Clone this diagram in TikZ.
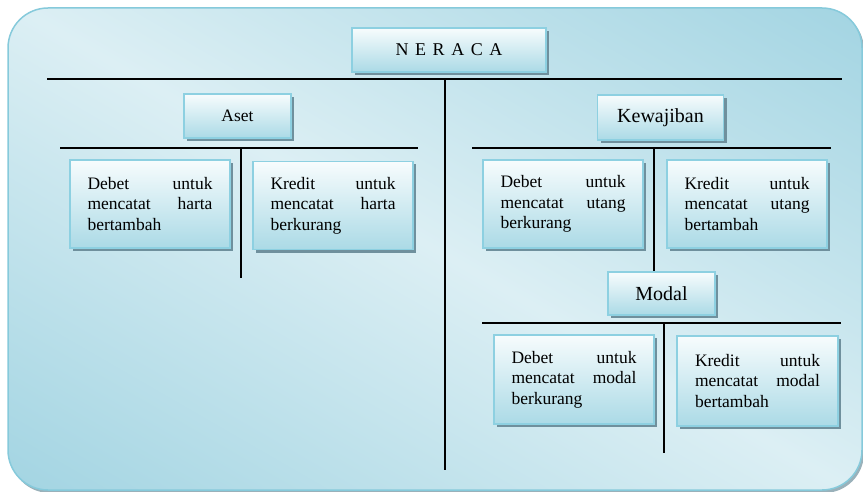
\documentclass[tikz,border=0pt]{standalone}
\usepackage{fontspec}
\setmainfont{Liberation Serif}
\usetikzlibrary{shadows}
\definecolor{panellight}{HTML}{DCEFF4}
\definecolor{paneldark}{HTML}{95CEDE}
\definecolor{panelborder}{HTML}{86CADB}
\definecolor{boxborder}{HTML}{8DD0E1}
\definecolor{boxtop}{HTML}{F7FCFD}
\definecolor{boxbottom}{HTML}{ABDAE6}
\definecolor{shadowc}{HTML}{6F909D}
\newcommand{\twoword}[2]{\leavevmode\hbox to 125pt{#1\hfill #2}}
\newcommand{\spaced}{\hspace{6.6pt}}
\tikzset{
  labelbox/.style={draw=boxborder, line width=1.5pt, top color=boxtop, bottom color=boxbottom,
    drop shadow={shadow xshift=3pt, shadow yshift=-3pt, fill=shadowc, opacity=1},
    inner sep=0pt, font=\fontsize{17.5}{20.4}\selectfont, align=center},
  biglabel/.style={labelbox, font=\fontsize{20}{24}\selectfont},
  textbox/.style={labelbox, text width=125pt, align=left, minimum width=160pt, minimum height=88pt},
  treeline/.style={line width=1.7pt, black}
}
\begin{document}
\begin{tikzpicture}[x=1pt, y=-1pt]
\useasboundingbox (0,0) rectangle (863,492);
\fill[white] (0,0) rectangle (863,492);
% panel
\fill[shadowc!70, rounded corners=40pt] (10,10) rectangle (864,493);
\begin{scope}
\clip[rounded corners=40pt] (8,8) rectangle (862,490);
\shade[top color=paneldark, bottom color=paneldark, middle color=panellight, shading angle=-30] (-290,-161) rectangle (1160,659);
\end{scope}
\draw[panelborder, line width=1.5pt, rounded corners=40pt] (8,8) rectangle (862,490);

% nodes
\node[labelbox, minimum width=194pt, minimum height=44pt, font=\fontsize{18}{21}\selectfont] (neraca) at (449,50)
  {N\spaced E\spaced R\spaced A\spaced C\spaced A};
\node[labelbox, minimum width=107pt, minimum height=44pt] (aset) at (237.5,116) {Aset};
\node[textbox] (dharta) at (150,204) {\twoword{Debet}{untuk}\\\twoword{mencatat}{harta}\\bertambah};
\node[textbox] (kharta) at (333,205.5) {\twoword{Kredit}{untuk}\\\twoword{mencatat}{harta}\\berkurang};
\node[biglabel, minimum width=126pt, minimum height=45pt] (kewajiban) at (660.5,117.5) {Kewajiban};
\node[textbox] (dutang) at (563,204) {\twoword{Debet}{untuk}\\\twoword{mencatat}{utang}\\berkurang};
\node[textbox] (kutang) at (747,204) {\twoword{Kredit}{untuk}\\\twoword{mencatat}{utang}\\bertambah};
\node[biglabel, minimum width=107pt, minimum height=43pt] (modal) at (661.5,293.5) {Modal};
\node[textbox, minimum height=89pt] (dmodal) at (574,379.5) {\twoword{Debet}{untuk}\\\twoword{mencatat}{modal}\\berkurang};
\node[textbox, minimum width=161pt, minimum height=90pt] (kmodal) at (757.5,381) {\twoword{Kredit}{untuk}\\\twoword{mencatat}{modal}\\bertambah};

% tree lines
\coordinate (mL) at (47,79);
\coordinate (mR) at (842,79);
\coordinate (mC) at (445,79);
\coordinate (mB) at (445,470);
\coordinate (lL) at (60,148);
\coordinate (lR) at (418,148);
\coordinate (lC) at (241,148);
\coordinate (lB) at (241,278);
\coordinate (rL) at (472,148);
\coordinate (rR) at (831,148);
\coordinate (rC) at (654,148);
\coordinate (rB) at (654,271);
\coordinate (nL) at (482,323);
\coordinate (nR) at (841,323);
\coordinate (nC) at (664,323);
\coordinate (nB) at (664,453);
\draw[treeline] (mL) -- (mR);
\draw[treeline] (mC) -- (mB);
\draw[treeline] (lL) -- (lR);
\draw[treeline] (lC) -- (lB);
\draw[treeline] (rL) -- (rR);
\draw[treeline] (rC) -- (rB);
\draw[treeline] (nL) -- (nR);
\draw[treeline] (nC) -- (nB);
\end{tikzpicture}
\end{document}
